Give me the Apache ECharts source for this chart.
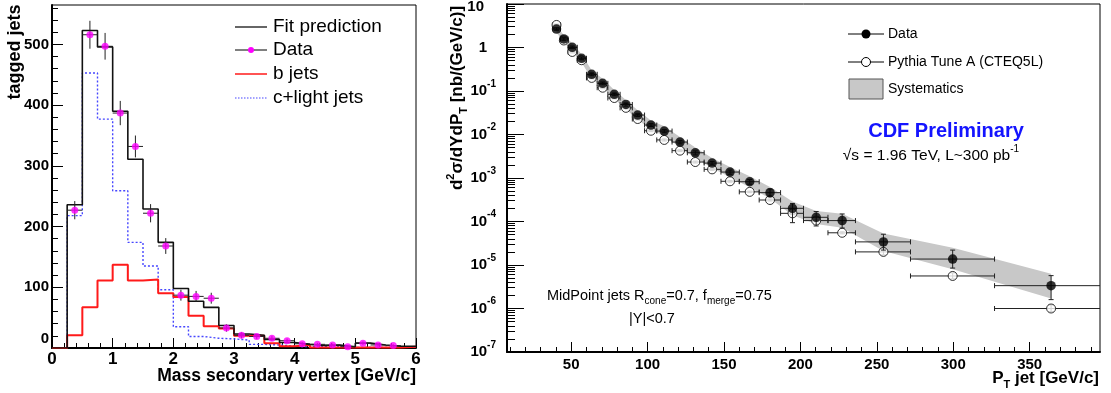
<!DOCTYPE html>
<html>
<head>
<meta charset="utf-8">
<script src="https://cdn.jsdelivr.net/npm/echarts@6/dist/echarts.min.js"></script>
<style>
  html, body { margin: 0; padding: 0; background: #fff; }
  #chart { width: 1111px; height: 393px; }
</style>
</head>
<body>
<div id="chart"></div>
<script>
// ---- left panel: mass of secondary vertex, 0.25 GeV/c bins ----
const massEdges = [0, 0.25, 0.5, 0.75, 1, 1.25, 1.5, 1.75, 2, 2.25, 2.5, 2.75, 3,
  3.25, 3.5, 3.75, 4, 4.25, 4.5, 4.75, 5, 5.25, 5.5, 5.75, 6];
const fitPred = [0, 236, 523, 496, 390, 311, 229, 174, 98, 77, 67, 37, 23, 21, 14, 9, 6, 4, 5, 2, 8, 5, 3, 3];
const bJets = [0, 21, 67, 111, 137, 111, 113, 90, 84, 53, 36, 32, 20, 20, 8, 3, 5, 1, 1, 1, 1, 1, 1, 2];
const cLight = [0, 218, 453, 377, 259, 174, 135, 96, 35, 19, 16, 15, 13, 6, 5, 3, 2, 2, 2, 1, 1, 1, 1, 1];
const dataCounts = [null, 227, 516, 497, 387, 332, 222, 168, 87, 85, 82, 33, 21, 19, 16, 12, 7, 6, 5, 2, 8, 5, 4, null];
const dataErr = [null, 15, 23, 22, 20, 18, 15, 13, 9, 9, 9, 6, 5, 4, 4, 3.5, 2.6, 2.4, 2.2, 1.4, 2.8, 2.2, 2, null];
const massTicks = [0, 1, 2, 3, 4, 5, 6];
const countTicks = [0, 100, 200, 300, 400, 500];

// ---- right panel: inclusive jet cross section ----
const ptCenter = [40.4, 45.2, 50.7, 56.8, 63.4, 70.6, 78.2, 85.8, 93.5, 102.2, 110.9, 121.2,
  131.2, 142.2, 153.9, 166.8, 180.1, 194.8, 210.3, 227.3, 254.3, 299.6, 364];
const ptEdges = [38, 43, 48, 54, 60, 67, 74, 82, 90, 98, 106, 116, 126, 137, 148, 160, 173,
  187, 202, 218, 236, 272, 327, 410];
const xsData = [2.66, 1.57, 1.01, 0.565, 0.242, 0.150, 0.084, 0.049, 0.028, 0.0165, 0.012, 0.0067,
  0.0038, 0.0022, 0.00137, 0.00082, 0.00046, 0.000201, 0.000125, 0.000105, 3.4e-5, 1.37e-5, 3.35e-6];
const xsDataHi = [2.85, 1.68, 1.08, 0.605, 0.26, 0.161, 0.09, 0.053, 0.030, 0.0178, 0.0130, 0.0073,
  0.0042, 0.0024, 0.00152, 0.00092, 0.00056, 0.00026, 0.000170, 0.000149, 5.1e-5, 2.2e-5, 5.7e-6];
const xsDataLo = [2.48, 1.46, 0.94, 0.525, 0.225, 0.139, 0.078, 0.045, 0.026, 0.0152, 0.0110, 0.0061,
  0.0034, 0.0020, 0.00122, 0.00072, 0.00037, 0.000094, 0.000079, 0.000071, 2.2e-5, 8.5e-6, 1.6e-6];
const xsPythia = [3.3, 1.45, 0.79, 0.51, 0.20, 0.119, 0.069, 0.041, 0.0227, 0.0122, 0.0075, 0.00425,
  0.00233, 0.00158, 0.00084, 0.00048, 0.000312, 0.000154, 0.000105, 5.5e-5, 2.0e-5, 5.6e-6, 1.0e-6];
const xsPythiaHi = [3.45, 1.52, 0.83, 0.535, 0.21, 0.125, 0.072, 0.043, 0.0238, 0.0128, 0.0079, 0.00446,
  0.00245, 0.00166, 0.00088, 0.00050, 0.000328, 0.000162, 0.000110, 5.8e-5, 2.4e-5, 6.6e-6, 1.2e-6];
const xsPythiaLo = [3.15, 1.38, 0.75, 0.485, 0.19, 0.113, 0.066, 0.039, 0.0216, 0.0116, 0.0071, 0.00404,
  0.00221, 0.00150, 0.00080, 0.00046, 0.000296, 0.000146, 0.000100, 5.2e-5, 1.7e-5, 4.8e-6, 0.85e-6];
const sysHi = [3.2, 1.9, 1.25, 0.70, 0.30, 0.19, 0.105, 0.062, 0.036, 0.021, 0.0155, 0.0088,
  0.0050, 0.0029, 0.0018, 0.00110, 0.00062, 0.00029, 0.000175, 0.000150, 5.3e-5, 2.5e-5, 6.3e-6];
const sysLo = [2.2, 1.3, 0.82, 0.45, 0.19, 0.118, 0.066, 0.038, 0.022, 0.0128, 0.0092, 0.0051,
  0.0029, 0.0017, 0.00104, 0.00061, 0.00034, 0.000140, 0.000088, 0.000072, 2.1e-5, 8.0e-6, 1.7e-6];
const ptTicks = [50, 100, 150, 200, 250, 300, 350];

const FONT = '"Liberation Sans", Arial, Helvetica, sans-serif';

// minor tick positions (axis decoration only)
const massMinor = [], countMinor = [], ptMinor = [], logMinor = [];
for (let i = 0; i <= 30; i++) massMinor.push(+(i * 0.2).toFixed(2));
for (let v = 0; v <= 560; v += 20) countMinor.push(v);
for (let v = 10; v <= 390; v += 10) ptMinor.push(v);
for (let k = -7; k < 1; k++) for (let m = 2; m <= 9; m++) logMinor.push(k + Math.log10(m));

const histLine = (vals) => massEdges.map((e, i) => [e, vals[Math.min(i, vals.length - 1)]]);

const massPoints = [];
dataCounts.forEach((c, i) => {
  if (c == null) return;
  const lo = massEdges[i], hi = massEdges[i + 1];
  massPoints.push([(lo + hi) / 2, c, (hi - lo) / 2, dataErr[i]]);
});

const xsPoints = ptCenter.map((p, i) => [p, xsData[i], ptEdges[i], ptEdges[i + 1], xsDataLo[i], xsDataHi[i]]);
const pyPoints = ptCenter.map((p, i) => [p, xsPythia[i], ptEdges[i], ptEdges[i + 1], xsPythiaLo[i], xsPythiaHi[i]]);

function massErrRender(params, api) {
  const x = api.value(0), y = api.value(1), hw = api.value(2), e = api.value(3);
  const c = api.coord([x, y]);
  const l = api.coord([x - hw, y]), r = api.coord([x + hw, y]);
  const t = api.coord([x, y + e]), b = api.coord([x, y - e]);
  const st = { stroke: '#222', lineWidth: 1 };
  return {
    type: 'group',
    children: [
      { type: 'line', shape: { x1: l[0], y1: c[1], x2: r[0], y2: c[1] }, style: st },
      { type: 'line', shape: { x1: c[0], y1: t[1], x2: c[0], y2: b[1] }, style: st }
    ]
  };
}

function xsErrRender(params, api) {
  const x = api.value(0), y = api.value(1);
  const c = api.coord([x, y]);
  const l = api.coord([api.value(2), y]), r = api.coord([api.value(3), y]);
  const b = api.coord([x, api.value(4)]), t = api.coord([x, api.value(5)]);
  const st = { stroke: '#222', lineWidth: 1 };
  const cap = 2.5;
  return {
    type: 'group',
    children: [
      { type: 'line', shape: { x1: l[0], y1: c[1], x2: r[0], y2: c[1] }, style: st },
      { type: 'line', shape: { x1: l[0], y1: c[1] - cap, x2: l[0], y2: c[1] + cap }, style: st },
      { type: 'line', shape: { x1: r[0], y1: c[1] - cap, x2: r[0], y2: c[1] + cap }, style: st },
      { type: 'line', shape: { x1: c[0], y1: t[1], x2: c[0], y2: b[1] }, style: st },
      { type: 'line', shape: { x1: c[0] - cap, y1: t[1], x2: c[0] + cap, y2: t[1] }, style: st },
      { type: 'line', shape: { x1: c[0] - cap, y1: b[1], x2: c[0] + cap, y2: b[1] }, style: st }
    ]
  };
}

function bandRender(params, api) {
  if (params.dataIndex !== 0) return;
  const pts = [];
  for (let i = 0; i < ptCenter.length; i++) pts.push(api.coord([ptCenter[i], sysHi[i]]));
  for (let i = ptCenter.length - 1; i >= 0; i--) pts.push(api.coord([ptCenter[i], sysLo[i]]));
  return { type: 'polygon', shape: { points: pts }, style: { fill: '#c8c8c8' } };
}

const boldLabel = { color: '#000', fontFamily: FONT, fontWeight: 'bold' };
const tickStyle = { color: '#000', width: 1 };
const minorAxis = (grid, pos, min, max, ticks, len) => ({
  type: 'value', gridIndex: grid, position: pos, offset: 0, min: min, max: max,
  axisLine: { show: false, onZero: false }, axisLabel: { show: false }, splitLine: { show: false },
  axisTick: { show: true, inside: true, length: len, customValues: ticks, lineStyle: tickStyle }
});

const chart = echarts.init(document.getElementById('chart'), null, { renderer: 'canvas' });

chart.setOption({
  animation: false,
  backgroundColor: '#fff',
  grid: [
    { left: 52, top: 5, width: 364, height: 343, show: true, borderColor: '#000', borderWidth: 1, outerBoundsMode: 'none' },
    { left: 507, top: 4, width: 593, height: 348, show: true, borderColor: '#000', borderWidth: 1, outerBoundsMode: 'none' }
  ],
  xAxis: [
    {
      type: 'value', gridIndex: 0, position: 'bottom', min: 0, max: 6,
      axisLine: { onZero: false, lineStyle: { color: '#000', width: 2 } },
      axisTick: { inside: true, length: 10, customValues: massTicks, lineStyle: tickStyle },
      axisLabel: Object.assign({ fontSize: 17, margin: 3, customValues: massTicks }, boldLabel),
      splitLine: { show: false }
    },
    minorAxis(0, 'bottom', 0, 6, massMinor, 5),
    {
      type: 'value', gridIndex: 1, position: 'bottom', min: 8, max: 396,
      axisLine: { onZero: false, lineStyle: { color: '#000', width: 2 } },
      axisTick: { inside: true, length: 10, customValues: ptTicks, lineStyle: tickStyle },
      axisLabel: Object.assign({ fontSize: 15, margin: 5, customValues: ptTicks }, boldLabel),
      splitLine: { show: false }
    },
    minorAxis(1, 'bottom', 8, 396, ptMinor, 5)
  ],
  yAxis: [
    {
      type: 'value', gridIndex: 0, position: 'left', min: 0, max: 565,
      axisLine: { onZero: false, lineStyle: { color: '#000', width: 2 } },
      axisTick: { inside: true, length: 11, customValues: countTicks, lineStyle: tickStyle },
      axisLabel: Object.assign({
        fontSize: 15, margin: 3, customValues: countTicks,
        formatter: (v) => (v === 0 ? '{z|0}' : String(v)),
        rich: { z: { fontSize: 15, fontWeight: 'bold', fontFamily: FONT, color: '#000', padding: [0, 0, 18, 0] } }
      }, boldLabel),
      splitLine: { show: false }
    },
    minorAxis(0, 'left', 0, 565, countMinor, 6),
    {
      type: 'log', logBase: 10, gridIndex: 1, position: 'left', min: 1e-7, max: 10, splitNumber: 8,
      axisLine: { onZero: false, lineStyle: { color: '#000', width: 2 } },
      axisTick: { inside: true, length: 17, lineStyle: tickStyle },
      axisLabel: {
        margin: 11,
        formatter: (v) => {
          const k = Math.round(Math.log10(v));
          if (k === 1) return '{p14|10}';
          if (k === 0) return '{p9|1}';
          return '{b|10}{e|' + k + '}';
        },
        rich: {
          b: { fontSize: 15, fontWeight: 'bold', fontFamily: FONT, color: '#000', lineHeight: 24 },
          e: { fontSize: 10, fontWeight: 'bold', fontFamily: FONT, color: '#000', verticalAlign: 'top', lineHeight: 12 },
          p14: { fontSize: 15, fontWeight: 'bold', fontFamily: FONT, color: '#000', lineHeight: 24, padding: [6, 12, 0, 0] },
          p9: { fontSize: 15, fontWeight: 'bold', fontFamily: FONT, color: '#000', lineHeight: 24, padding: [0, 9, 0, 0] }
        }
      },
      splitLine: { show: false },
      minorTick: { show: false }
    },
    minorAxis(1, 'left', -7, 1, logMinor, 8)
  ],
  series: [
    {
      name: 'c+light jets', type: 'line', xAxisIndex: 0, yAxisIndex: 0, step: 'end', symbol: 'none',
      data: histLine(cLight), lineStyle: { color: '#4646ff', width: 1.4, type: [2, 2] }, z: 2
    },
    {
      name: 'b jets', type: 'line', xAxisIndex: 0, yAxisIndex: 0, step: 'end', symbol: 'none',
      data: histLine(bJets), lineStyle: { color: '#ff1a1a', width: 2 }, z: 3
    },
    {
      name: 'Fit prediction', type: 'line', xAxisIndex: 0, yAxisIndex: 0, step: 'end', symbol: 'none',
      data: histLine(fitPred), lineStyle: { color: '#111', width: 1.6 }, z: 4
    },
    {
      name: 'Data err', type: 'custom', xAxisIndex: 0, yAxisIndex: 0, renderItem: massErrRender,
      data: massPoints, z: 5, silent: true
    },
    {
      name: 'Data', type: 'scatter', xAxisIndex: 0, yAxisIndex: 0, symbol: 'circle', symbolSize: 7,
      data: massPoints.map((p) => [p[0], p[1]]), itemStyle: { color: '#ff00ff' }, z: 6
    },
    {
      name: 'Systematics', type: 'custom', xAxisIndex: 2, yAxisIndex: 2, renderItem: bandRender,
      data: [[ptCenter[0], xsData[0]]], z: 1, silent: true
    },
    {
      name: 'Pythia err', type: 'custom', xAxisIndex: 2, yAxisIndex: 2, renderItem: xsErrRender,
      data: pyPoints, clip: true, z: 2, silent: true
    },
    {
      name: 'Pythia Tune A (CTEQ5L)', type: 'scatter', xAxisIndex: 2, yAxisIndex: 2, symbol: 'circle', symbolSize: 9,
      data: pyPoints.map((p) => [p[0], p[1]]),
      itemStyle: { color: '#fff', borderColor: '#000', borderWidth: 1 }, z: 3
    },
    {
      name: 'Data xs err', type: 'custom', xAxisIndex: 2, yAxisIndex: 2, renderItem: xsErrRender,
      data: xsPoints, clip: true, z: 4, silent: true
    },
    {
      name: 'Data xs', type: 'scatter', xAxisIndex: 2, yAxisIndex: 2, symbol: 'circle', symbolSize: 9.5,
      data: xsPoints.map((p) => [p[0], p[1]]), itemStyle: { color: '#000' }, z: 5
    }
  ],
  graphic: [
    // left panel titles
    {
      type: 'text', x: 15, y: 52, rotation: Math.PI / 2,
      style: { text: 'tagged jets', font: 'bold 18px ' + FONT, fill: '#000', textAlign: 'center', textVerticalAlign: 'middle' }
    },
    {
      type: 'text', x: 416, y: 376,
      style: { text: 'Mass secondary vertex [GeV/c]', font: 'bold 17.5px ' + FONT, fill: '#000', textAlign: 'right', textVerticalAlign: 'middle' }
    },
    // left legend
    { type: 'line', shape: { x1: 235, y1: 27, x2: 267, y2: 27 }, style: { stroke: '#333', lineWidth: 1.5 } },
    { type: 'text', x: 273, y: 27, style: { text: 'Fit prediction', font: '19px ' + FONT, fill: '#000', textVerticalAlign: 'middle' } },
    { type: 'line', shape: { x1: 235, y1: 50, x2: 267, y2: 50 }, style: { stroke: '#000', lineWidth: 1 } },
    { type: 'circle', shape: { cx: 251, cy: 50, r: 3 }, style: { fill: '#ff00ff' } },
    { type: 'text', x: 273, y: 50, style: { text: 'Data', font: '19px ' + FONT, fill: '#000', textVerticalAlign: 'middle' } },
    { type: 'line', shape: { x1: 235, y1: 74, x2: 267, y2: 74 }, style: { stroke: '#ff1a1a', lineWidth: 1.5 } },
    { type: 'text', x: 273, y: 74, style: { text: 'b jets', font: '19px ' + FONT, fill: '#000', textVerticalAlign: 'middle' } },
    { type: 'line', shape: { x1: 235, y1: 98, x2: 267, y2: 98 }, style: { stroke: '#4646ff', lineWidth: 1.2, lineDash: [1.5, 1.5] } },
    { type: 'text', x: 273, y: 98, style: { text: 'c+light jets', font: '19px ' + FONT, fill: '#000', textVerticalAlign: 'middle' } },

    // right panel titles
    {
      type: 'text', x: 457, y: 98, rotation: Math.PI / 2,
      style: {
        text: '{b|d}{e|2}{b|σ/dYdP}{s|T}{b| [nb/(GeV/c)]}', textAlign: 'center', textVerticalAlign: 'middle',
        rich: {
          b: { fontSize: 17, fontWeight: 'bold', fontFamily: FONT, fill: '#000', lineHeight: 24 },
          e: { fontSize: 11, fontWeight: 'bold', fontFamily: FONT, fill: '#000', verticalAlign: 'top', lineHeight: 12 },
          s: { fontSize: 11, fontWeight: 'bold', fontFamily: FONT, fill: '#000', verticalAlign: 'bottom', lineHeight: 12 }
        }
      }
    },
    {
      type: 'text', x: 1099, y: 378,
      style: {
        text: '{b|P}{s|T}{b| jet [GeV/c]}', textAlign: 'right', textVerticalAlign: 'middle',
        rich: {
          b: { fontSize: 17, fontWeight: 'bold', fontFamily: FONT, fill: '#000', lineHeight: 24 },
          s: { fontSize: 11, fontWeight: 'bold', fontFamily: FONT, fill: '#000', verticalAlign: 'bottom', lineHeight: 12 }
        }
      }
    },
    // right legend
    { type: 'line', shape: { x1: 848, y1: 34, x2: 884, y2: 34 }, style: { stroke: '#000', lineWidth: 1 } },
    { type: 'circle', shape: { cx: 866, cy: 34, r: 4.5 }, style: { fill: '#000' } },
    { type: 'text', x: 888, y: 34, style: { text: 'Data', font: '14px ' + FONT, fill: '#000', textVerticalAlign: 'middle' } },
    { type: 'line', shape: { x1: 848, y1: 62, x2: 884, y2: 62 }, style: { stroke: '#000', lineWidth: 1 } },
    { type: 'circle', shape: { cx: 866, cy: 62, r: 4.5 }, style: { fill: '#fff', stroke: '#000', lineWidth: 1 } },
    { type: 'text', x: 888, y: 62, style: { text: 'Pythia Tune A (CTEQ5L)', font: '14px ' + FONT, fill: '#000', textVerticalAlign: 'middle' } },
    { type: 'rect', shape: { x: 849, y: 79, width: 34, height: 20 }, style: { fill: '#c8c8c8', stroke: '#555', lineWidth: 1 } },
    { type: 'text', x: 888, y: 89, style: { text: 'Systematics', font: '14px ' + FONT, fill: '#000', textVerticalAlign: 'middle' } },
    // annotations
    {
      type: 'text', x: 946, y: 131,
      style: { text: 'CDF Preliminary', font: 'bold 20px ' + FONT, fill: '#1414ff', textAlign: 'center', textVerticalAlign: 'middle' }
    },
    {
      type: 'text', x: 931, y: 156,
      style: {
        text: '{n|√s = 1.96 TeV, L~300 pb}{e|-1}', textAlign: 'center', textVerticalAlign: 'middle',
        rich: {
          n: { fontSize: 15.5, fontFamily: FONT, fill: '#000', lineHeight: 24 },
          e: { fontSize: 10, fontFamily: FONT, fill: '#000', verticalAlign: 'top', lineHeight: 12 }
        }
      }
    },
    {
      type: 'text', x: 547, y: 296,
      style: {
        text: '{n|MidPoint jets R}{s|cone}{n|=0.7, f}{s|merge}{n|=0.75}', textAlign: 'left', textVerticalAlign: 'middle',
        rich: {
          n: { fontSize: 14.5, fontFamily: FONT, fill: '#000', lineHeight: 20 },
          s: { fontSize: 10, fontFamily: FONT, fill: '#000', verticalAlign: 'bottom', lineHeight: 10 }
        }
      }
    },
    {
      type: 'text', x: 652, y: 319,
      style: { text: '|Y|<0.7', font: '14.5px ' + FONT, fill: '#000', textAlign: 'center', textVerticalAlign: 'middle' }
    }
  ]
});
</script>
</body>
</html>
